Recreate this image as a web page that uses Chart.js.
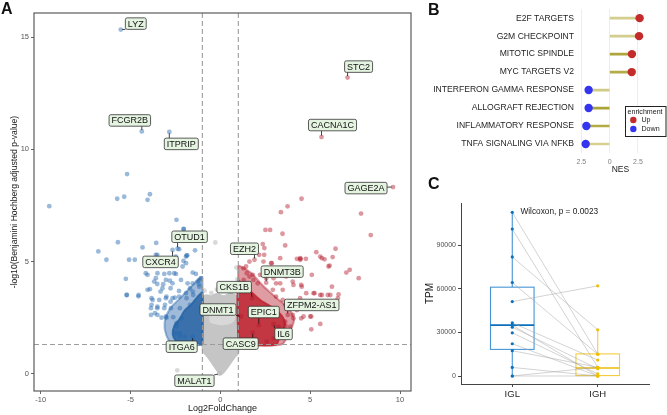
<!DOCTYPE html>
<html>
<head>
<meta charset="utf-8">
<script src="https://cdn.jsdelivr.net/npm/chart.js@4.4.0/dist/chart.umd.min.js"></script>
<style>
  body { margin: 0; background: #fff; width: 667px; height: 415px; overflow: hidden; position: relative; font-family: "Liberation Sans", Arial, sans-serif; }
  .panel { position: absolute; }
  .tag { position: absolute; font-weight: bold; font-size: 16px; line-height: 1; color: #111; }
</style>
</head>
<body>
<div class="panel" style="left:0;top:0;width:420px;height:415px"><canvas id="volcano"></canvas></div>
<div class="panel" style="left:420px;top:0;width:247px;height:180px"><canvas id="gsea"></canvas></div>
<div class="panel" style="left:420px;top:195px;width:247px;height:220px"><canvas id="paired"></canvas></div>
<div class="tag" style="left:1px;top:1px">A</div>
<div class="tag" style="left:428px;top:2px">B</div>
<div class="tag" style="left:428px;top:176px">C</div>

<script>
// ---------- Panel A: volcano (log2FC, -log10 padj) ----------
const fcCutoffs = [-1, 1];
const padjCutoff = 1.3;
const fcTicks = [-10, -5, 0, 5, 10];
const padjTicks = [0, 5, 10, 15];

const upGenes = [
  [7.08, 13.2], [5.63, 10.55], [9.61, 8.32], [4.52, 7.8], [3.74, 7.46], [3.37, 7.2], [7.83, 7.14],
  [2.51, 6.41], [2.77, 6.41], [3.46, 6.24], [8.37, 6.18], [2.36, 5.78], [3.61, 5.72], [2.45, 5.6],
  [6.41, 5.57], [1.99, 5.67], [2.16, 5.3], [2.44, 5.3], [5.34, 5.42], [5.56, 5.22], [6.25, 5.2],
  [5.8, 5.1], [4.44, 5.15], [4.47, 5.12], [4.26, 5.12], [4.76, 5.12], [6.08, 4.82], [7.01, 4.51],
  [7.2, 4.63], [7.7, 4.26], [5.09, 4.41], [6.21, 3.88], [4.03, 4.11], [4.5, 3.96], [4.78, 3.59],
  [5.24, 3.59], [5.56, 3.51], [5.98, 3.51], [6.54, 3.37], [5.06, 2.55], [5.56, 2.22], [5.06, 1.98],
  [4.5, 2.47], [4.03, 2.62], [3.63, 2.13], [4.22, 2.99], [3.85, 3.14], [3.47, 3.29], [3.1, 3.44],
  [2.92, 3.74], [3.47, 3.74], [2.55, 4.26], [2.96, 4.55], [2.83, 4.93], [1.62, 5.0], [1.8, 4.41],
  [1.43, 4.78], [1.3, 4.18], [2.08, 4.03], [1.62, 4.33], [1.43, 3.88], [3.1, 4.03], [3.66, 4.33],
  [1.9, 5.08], [2.55, 4.06], [1.77, 3.37], [3.75, 2.62], [2.96, 2.22], [2.4, 5.0], [2.86, 4.93],
  [3.33, 5.15], [4.44, 5.08], [5.65, 5.15], [6.02, 4.78], [4.07, 3.96], [4.53, 3.88], [5.19, 3.59],
  [5.65, 3.51], [6.12, 3.51], [6.58, 3.54], [4.44, 3.37], [5.0, 3.21], [3.89, 3.21], [3.61, 3.07],
  [4.26, 2.84], [4.63, 2.55], [4.07, 2.47], [3.61, 2.32], [3.23, 2.1], [3.89, 2.1], [3.42, 1.73],
  [2.96, 1.58], [2.58, 1.43], [2.96, 4.26], [3.33, 4.03], [2.21, 4.41], [1.84, 4.18], [1.47, 4.48],
  [1.28, 4.7], [5.0, 2.55], [1.8, 1.83], [2.14, 2.17], [1.15, 2.55]
];
const downGenes = [
  [-5.54, 15.34], [-4.37, 10.8], [-2.84, 10.78], [-5.19, 8.9], [-3.92, 8.0], [-5.35, 7.89],
  [-5.74, 7.8], [-4.05, 7.75], [-9.52, 7.47], [-2.44, 6.86], [-2.03, 6.46], [-2.05, 6.44],
  [-5.7, 5.86], [-3.57, 5.83], [-4.33, 5.63], [-6.79, 5.45], [-2.38, 5.57], [-1.41, 5.5],
  [-1.84, 5.28], [-3.51, 5.3], [-6.34, 5.08], [-5.08, 5.08], [-4.76, 5.08], [-1.88, 5.27],
  [-2.29, 5.55], [-2.05, 5.03], [-5.26, 4.23], [-5.2, 3.51], [-4.55, 3.51], [-4.05, 3.74],
  [-3.68, 4.11], [-3.5, 4.48], [-4.15, 4.48], [-2.84, 4.48], [-2.57, 4.48], [-2.1, 4.78],
  [-1.91, 4.93], [-1.54, 4.51], [-1.36, 4.45], [-2.19, 4.18], [-2.66, 4.03], [-3.22, 3.81],
  [-3.03, 4.18], [-3.77, 3.29], [-3.4, 3.29], [-3.03, 3.37], [-2.66, 3.37], [-2.29, 3.44],
  [-1.91, 3.59], [-1.54, 3.66], [-1.17, 3.88], [-1.17, 4.18], [-3.86, 2.92], [-3.5, 2.99],
  [-3.12, 2.92], [-2.75, 2.92], [-3.86, 2.62], [-3.5, 2.62], [-3.03, 2.55], [-1.82, 4.03],
  [-1.54, 4.03], [-1.27, 4.11], [-1.08, 4.26], [-2.47, 5.22], [-3.59, 5.3], [-2.94, 4.96],
  [-3.22, 4.93], [-1.91, 5.22], [-2.66, 5.52], [-3.27, 2.5], [-3.0, 2.5], [-2.62, 2.52],
  [-2.44, 2.1], [-2.25, 1.8], [-1.97, 1.65], [-1.54, 1.65], [-4.05, 4.41], [-3.59, 4.26],
  [-3.12, 4.45], [-2.81, 4.15], [-2.47, 4.45], [-3.51, 4.0], [-3.18, 3.99], [-3.92, 3.77],
  [-3.33, 3.66], [-2.77, 3.81], [-2.3, 3.69], [-1.69, 3.81], [-1.19, 3.99], [-5.22, 3.51],
  [-4.56, 3.45], [-3.83, 3.37], [-3.0, 3.44], [-2.53, 3.39], [-1.88, 3.37], [-1.51, 3.51],
  [-3.83, 3.07], [-3.51, 2.92], [-3.08, 3.07], [-2.77, 3.21], [-2.25, 2.92], [-1.69, 3.07],
  [-3.64, 2.7], [-2.16, 2.47], [-2.44, 2.25], [-2.47, 1.8], [-2.25, 1.65]
];
const nsGenes = [
  [-0.28, 5.85], [0.89, 4.73], [-2.4, 0.15], [-0.05, 0.0], [0.6, 3.65], [-0.5, 3.6],
  [0.95, 4.2], [-0.88, 3.7], [0.3, 3.72], [-0.2, 3.75]
];
// dense cores, outline of the overlapping points
const nsCloud = [
  [0, -0.05], [-0.35, 0.35], [-0.7, 0.75], [-0.95, 1.0], [-1.0, 1.3], [-1.0, 3.35], [-0.8, 3.5],
  [-0.5, 3.45], [-0.2, 3.55], [0.2, 3.45], [0.5, 3.55], [0.8, 3.5], [1.0, 3.4], [1.0, 0.95],
  [0.8, 0.75], [0.5, 0.4], [0.2, 0.08], [0, -0.05]
];
const nsHole = [[-0.55, 2.3], [0.1, 2.2], [0.7, 2.35], [0.75, 2.9], [0.1, 3.05], [-0.5, 2.95], [-0.55, 2.3]];
const downHalo = [
  [-1.0, 1.3], [-2.6, 1.3], [-3.0, 1.7], [-3.1, 2.3], [-2.8, 2.9], [-2.2, 3.4], [-1.6, 3.9],
  [-1.1, 4.3], [-1.0, 4.3], [-1.0, 1.3]
];
const downCore = [
  [-1.0, 1.3], [-2.05, 1.3], [-2.45, 1.45], [-2.65, 1.75], [-2.55, 2.15], [-2.25, 2.45], [-2.0, 2.8],
  [-1.6, 3.1], [-1.25, 3.45], [-1.0, 3.6], [-1.0, 1.3]
];
const upHalo = [
  [1.0, 1.3], [3.4, 1.3], [3.8, 1.8], [4.1, 2.4], [3.8, 2.9], [3.1, 3.4], [2.4, 3.9], [1.7, 4.5],
  [1.1, 4.8], [1.0, 4.8], [1.0, 1.3]
];
const upCore = [
  [1.0, 1.3], [3.1, 1.3], [3.3, 1.7], [3.6, 2.2], [3.4, 2.6], [2.9, 2.95], [2.2, 3.3], [1.5, 3.8],
  [1.0, 4.1], [1.0, 1.3]
];

const labelGenes = ['LYZ', 'FCGR2B', 'ITPRIP', 'STC2', 'CACNA1C', 'GAGE2A', 'OTUD1', 'CXCR4', 'EZH2',
  'DNMT3B', 'CKS1B', 'DNMT1', 'EPIC1', 'ZFPM2-AS1', 'IL6', 'CASC9', 'ITGA6', 'MALAT1'];
const labelFC = [-5.54, -4.37, -2.84, 7.08, 5.63, 9.61, -2.38, -2.66, 1.9, 2.55, 1.77, 1.15, 2.14, 3.75, 2.96, 1.8, -1.54, -0.05];
const labelPadj = [15.34, 10.8, 10.78, 13.2, 10.55, 8.32, 5.57, 5.52, 5.08, 4.06, 3.37, 2.55, 2.17, 2.62, 2.22, 1.83, 1.65, 0.0];

// ---------- Panel B: GSEA hallmark NES ----------
const pathways = ['E2F TARGETS', 'G2M CHECKPOINT', 'MITOTIC SPINDLE', 'MYC TARGETS V2',
  'INTERFERON GAMMA RESPONSE', 'ALLOGRAFT REJECTION', 'INFLAMMATORY RESPONSE', 'TNFA SIGNALING VIA NFKB'];
const nes = [2.65, 2.6, 1.97, 1.95, -1.86, -1.86, -2.06, -2.12];
const enrichment = ['Up', 'Up', 'Up', 'Up', 'Down', 'Down', 'Down', 'Down'];
const nesTicks = [-2.5, 0, 2.5];

// ---------- Panel C: paired TPM ----------
const groups = ['IGL', 'IGH'];
const tpmIGL = [112600, 101100, 81900, 64300, 51200, 36600, 35000, 33600, 29700, 22200, 17400, 5900, 0, 0];
const tpmIGH = [15000, 6000, 31800, 15000, 62000, 11000, 0, 5000, 1500, 0, 6000, 0, 6000, 0];
// whisker low, Q1, median, Q3, whisker high
const boxIGL = [0, 18300, 35000, 61100, 112600];
const boxIGH = [0, 300, 5500, 15200, 31800];
const tpmTicks = [0, 30000, 60000, 90000];

// ---------- styles ----------
const FONT = '"Liberation Sans", Arial, sans-serif';
Chart.defaults.font.family = FONT;
Chart.defaults.animation = false;
Chart.defaults.events = [];
Chart.defaults.plugins.legend.display = false;
Chart.defaults.plugins.tooltip.enabled = false;

const labelOffsets = [[15, -6], [-12, -11], [12, 12], [11, -11], [11, -12], [-27, 1], [12, -12], [-12, 12],
  [-10, -11], [16, -11], [-18, -11], [-23, -7], [5, -13], [24, -10], [10, 10], [-12, 11], [-11, 10], [-25, 7]];
const stemColors = ['#d4ce8e', '#d4ce8e', '#aea63c', '#b4ac48', '#d1cb88', '#aaa337', '#b2ab44', '#d6d092'];

function pts(list) {
  return list.map(([x, y]) => ({ x, y }));
}
function fixTicks(values) {
  return scale => { scale.ticks = values.map(v => ({ value: v })); };
}

// ---------- Panel A ----------
const volcanoDecor = {
  id: 'volcanoDecor',
  afterDatasetsDraw(chart) {
    const { ctx, chartArea: a, scales: { x, y } } = chart;
    ctx.save();
    ctx.strokeStyle = '#9c9c9c';
    ctx.lineWidth = 1.1;
    ctx.setLineDash([5, 3]);
    ctx.beginPath();
    fcCutoffs.forEach(v => {
      const px = x.getPixelForValue(v);
      ctx.moveTo(px, a.top); ctx.lineTo(px, a.bottom);
    });
    const py = y.getPixelForValue(padjCutoff);
    ctx.moveTo(a.left, py); ctx.lineTo(a.right, py);
    ctx.stroke();
    ctx.setLineDash([]);

    ctx.font = '9px ' + FONT;
    ctx.textAlign = 'center';
    ctx.textBaseline = 'middle';
    labelGenes.forEach((g, i) => {
      const gx = x.getPixelForValue(labelFC[i]);
      const gy = y.getPixelForValue(labelPadj[i]);
      const cx = gx + labelOffsets[i][0], cy = gy + labelOffsets[i][1];
      const w = ctx.measureText(g).width + 5, h = 11.5;
      const bx = cx - w / 2, by = cy - h / 2;
      const qx = Math.max(bx, Math.min(gx, bx + w));
      const qy = Math.max(by, Math.min(gy, by + h));
      const d = Math.hypot(qx - gx, qy - gy);
      if (d > 2) {
        const k = 1.5 / d;
        ctx.strokeStyle = '#111';
        ctx.lineWidth = 0.8;
        ctx.beginPath();
        ctx.moveTo(gx + (qx - gx) * k, gy + (qy - gy) * k);
        ctx.lineTo(qx, qy);
        ctx.stroke();
      }
      ctx.beginPath();
      ctx.roundRect(bx, by, w, h, 1.8);
      ctx.fillStyle = '#e4f4e0';
      ctx.fill();
      ctx.strokeStyle = '#333';
      ctx.lineWidth = 0.8;
      ctx.stroke();
      ctx.fillStyle = '#111';
      ctx.fillText(g, cx, cy + 0.5);
    });

    ctx.strokeStyle = '#5c5c5c';
    ctx.lineWidth = 1.2;
    ctx.strokeRect(a.left, a.top, a.width, a.height);
    ctx.restore();
  }
};

function coreSet(list, color, order) {
  return { type: 'line', data: pts(list), fill: 'shape', backgroundColor: color, borderColor: color,
    borderWidth: 2, pointRadius: 0, tension: 0.3, order };
}
function pointSet(list, color, order) {
  return { type: 'scatter', data: pts(list), backgroundColor: color, borderWidth: 0, pointRadius: 2.4, order };
}

new Chart(document.getElementById('volcano'), {
  type: 'scatter',
  data: {
    datasets: [
      coreSet(nsCloud, '#c5c5c5', 10),
      coreSet(nsHole, '#d8d8d8', 9),
      pointSet(nsGenes, 'rgba(185,185,185,0.55)', 8),
      coreSet(downHalo, 'rgba(45,105,170,0.45)', 7),
      coreSet(upHalo, 'rgba(185,35,50,0.45)', 7),
      coreSet(downCore, 'rgba(40,100,165,0.85)', 6),
      coreSet(upCore, 'rgba(190,38,50,0.85)', 6),
      pointSet(downGenes, 'rgba(33,102,172,0.45)', 5),
      pointSet(upGenes, 'rgba(178,24,43,0.45)', 5)
    ]
  },
  options: {
    responsive: true,
    maintainAspectRatio: false,
    devicePixelRatio: 1,
    layout: { padding: { left: 0, top: 13, right: 9, bottom: 0 } },
    scales: {
      x: {
        type: 'linear', min: -10.37, max: 10.61,
        afterBuildTicks: fixTicks(fcTicks),
        afterFit: s => { s.height = 24; },
        grid: { drawOnChartArea: false, tickLength: 3, color: '#666' },
        border: { display: false },
        ticks: { font: { size: 7.5 }, color: '#555', padding: 1, maxRotation: 0 },
        title: { display: true, text: 'Log2FoldChange', font: { size: 9 }, color: '#1a1a1a', padding: { top: 1.5, bottom: 1.5 } }
      },
      y: {
        type: 'linear', min: -0.77, max: 16.08,
        afterBuildTicks: fixTicks(padjTicks),
        afterFit: s => { s.width = 34; },
        grid: { drawOnChartArea: false, tickLength: 3, color: '#666' },
        border: { display: false },
        ticks: { font: { size: 7.5 }, color: '#555', padding: 2 },
        title: { display: true, text: '-log10(Benjamini Hochberg adjusted p-value)', font: { size: 8.6 }, color: '#1a1a1a', padding: { top: 9.5, bottom: 9.5 } }
      }
    }
  },
  plugins: [volcanoDecor]
});

// ---------- Panel B ----------
const gseaLegend = {
  id: 'gseaLegend',
  afterDraw(chart) {
    const ctx = chart.ctx;
    ctx.save();
    ctx.fillStyle = '#fff';
    ctx.fillRect(205, 106, 41, 31);
    ctx.strokeStyle = '#222';
    ctx.lineWidth = 1;
    ctx.strokeRect(205.5, 106.5, 40.5, 30);
    ctx.font = '7.1px ' + FONT;
    ctx.textBaseline = 'middle';
    ctx.textAlign = 'left';
    ctx.fillStyle = '#1a1a1a';
    ctx.fillText('enrichment', 207.5, 112);
    [['Up', '#c42b2b', 120], ['Down', '#3535f0', 129]].forEach(([t, c, yy]) => {
      ctx.fillStyle = c;
      ctx.beginPath(); ctx.arc(213.3, yy, 3.2, 0, Math.PI * 2); ctx.fill();
      ctx.fillStyle = '#1a1a1a';
      ctx.fillText(t, 221.5, yy);
    });
    ctx.restore();
  }
};

new Chart(document.getElementById('gsea'), {
  type: 'bar',
  data: {
    labels: pathways,
    datasets: [
      {
        type: 'scatter',
        data: pathways.map((p, i) => ({ x: nes[i], y: p })),
        backgroundColor: enrichment.map(e => e === 'Up' ? '#c42b2b' : '#3535f0'),
        borderWidth: 0, pointRadius: 4.2, clip: false, order: 1
      },
      {
        data: nes.map(v => [0, v]),
        backgroundColor: stemColors,
        barThickness: 2, borderWidth: 0, order: 2
      }
    ]
  },
  options: {
    indexAxis: 'y',
    responsive: true,
    maintainAspectRatio: false,
    devicePixelRatio: 1,
    layout: { padding: { left: 0, top: 4, right: 4, bottom: 0 } },
    scales: {
      x: {
        type: 'linear', min: -2.8, max: 4.7,
        afterBuildTicks: fixTicks(nesTicks),
        afterFit: s => { s.height = 27; },
        grid: { color: '#ededed', drawTicks: false },
        border: { display: false },
        ticks: { font: { size: 7 }, color: '#808080', padding: 5, callback: v => String(Math.abs(v)) },
        title: { display: true, text: 'NES', font: { size: 8.5 }, color: '#1a1a1a', padding: { top: 4.9, bottom: 4.9 } }
      },
      y: {
        type: 'category',
        afterFit: s => { s.width = 158; },
        grid: { display: false, drawTicks: false },
        border: { display: false },
        ticks: { font: { size: 8.6 }, color: '#1f1f1f', padding: 4 }
      }
    }
  },
  plugins: [gseaLegend]
});

// ---------- Panel C ----------
const boxDecor = {
  id: 'boxDecor',
  beforeDatasetsDraw(chart) {
    const { ctx, scales: { x, y } } = chart;
    const half = 0.255;
    ctx.save();
    [[boxIGL, 1, '#4595d6', '#0a6fbd'], [boxIGH, 2, '#f4cd3c', '#e9bb08']].forEach(([b, pos, col, med]) => {
      const l = x.getPixelForValue(pos - half), r = x.getPixelForValue(pos + half), c = x.getPixelForValue(pos);
      const [lo, q1, m, q3, hi] = b.map(v => y.getPixelForValue(v));
      ctx.strokeStyle = col;
      ctx.lineWidth = 1.1;
      ctx.beginPath();
      ctx.moveTo(c, q3); ctx.lineTo(c, hi);
      ctx.moveTo(c, q1); ctx.lineTo(c, lo);
      ctx.stroke();
      ctx.fillStyle = '#fff';
      ctx.fillRect(l, q3, r - l, q1 - q3);
      ctx.strokeRect(l, q3, r - l, q1 - q3);
      ctx.strokeStyle = med;
      ctx.lineWidth = 1.6;
      ctx.beginPath(); ctx.moveTo(l, m); ctx.lineTo(r, m); ctx.stroke();
    });
    ctx.restore();
  },
  afterDraw(chart) {
    const { ctx, scales: { x, y } } = chart;
    ctx.save();
    ctx.font = '8.3px ' + FONT;
    ctx.fillStyle = '#1a1a1a';
    ctx.textAlign = 'center';
    ctx.textBaseline = 'middle';
    ctx.fillText('Wilcoxon, p = 0.0023', x.getPixelForValue(1.55), y.getPixelForValue(113000));
    ctx.restore();
  }
};

const pairLines = tpmIGL.map((v, i) => ({
  type: 'line',
  data: [{ x: 1, y: v }, { x: 2, y: tpmIGH[i] }],
  borderColor: 'rgba(165,165,165,0.55)', borderWidth: 0.9, pointRadius: 0, order: 3
}));

new Chart(document.getElementById('paired'), {
  type: 'scatter',
  data: {
    datasets: [
      ...pairLines,
      { data: tpmIGL.map(v => ({ x: 1, y: v })), backgroundColor: '#0a72c0', borderWidth: 0, pointRadius: 1.6, order: 1 },
      { data: tpmIGH.map(v => ({ x: 2, y: v })), backgroundColor: '#efc000', borderWidth: 0, pointRadius: 1.6, order: 1 }
    ]
  },
  options: {
    responsive: true,
    maintainAspectRatio: false,
    devicePixelRatio: 1,
    layout: { padding: { left: 0, top: 8, right: 18, bottom: 0 } },
    scales: {
      x: {
        type: 'linear', min: 0.4, max: 2.6,
        afterBuildTicks: fixTicks([1, 2]),
        afterFit: s => { s.height = 31; },
        grid: { drawOnChartArea: false, tickLength: 3, color: '#444' },
        border: { color: '#444', width: 1 },
        ticks: { font: { size: 9.5 }, color: '#1f1f1f', padding: 2, callback: v => groups[v - 1] }
      },
      y: {
        type: 'linear', min: -5500, max: 119000,
        afterBuildTicks: fixTicks(tpmTicks),
        afterFit: s => { s.width = 41; },
        grid: { drawOnChartArea: false, tickLength: 3, color: '#444' },
        border: { color: '#444', width: 1 },
        ticks: { font: { size: 7 }, color: '#4d4d4d', padding: 2, callback: v => String(v) },
        title: { display: true, text: 'TPM', font: { size: 10 }, color: '#1a1a1a', padding: { top: 4.5, bottom: 4.5 } }
      }
    }
  },
  plugins: [boxDecor]
});
</script>
</body>
</html>
